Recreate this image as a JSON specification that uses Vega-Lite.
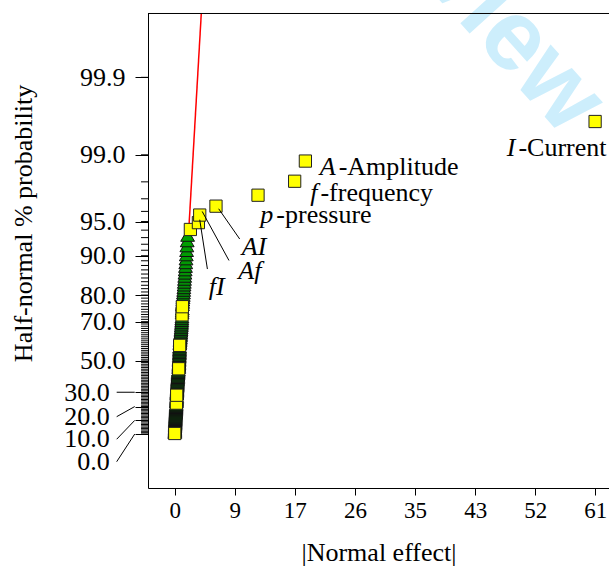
{
  "$schema": "https://vega.github.io/schema/vega-lite/v6.json",
  "width": 461,
  "height": 475,
  "autosize": {"type": "none"},
  "padding": {"left": 148, "top": 13, "right": 0, "bottom": 79},
  "background": "white",
  "config": {
    "view": {"stroke": null},
    "axis": {"labelFont": "Liberation Serif", "titleFont": "Liberation Serif", "labelColor": "black", "titleColor": "black", "titleFontWeight": "normal", "domainColor": "black", "tickColor": "black", "grid": false}
  },
  "datasets": {
    "points": [
      {"rank": 1, "z": 0.0049, "effect": 0.01, "kind": "effect"},
      {"rank": 2, "z": 0.0148, "effect": 0.01, "kind": "error"},
      {"rank": 3, "z": 0.0247, "effect": 0.02, "kind": "error"},
      {"rank": 4, "z": 0.0345, "effect": 0.03, "kind": "error"},
      {"rank": 5, "z": 0.0444, "effect": 0.03, "kind": "error"},
      {"rank": 6, "z": 0.0543, "effect": 0.04, "kind": "error"},
      {"rank": 7, "z": 0.0642, "effect": 0.05, "kind": "error"},
      {"rank": 8, "z": 0.0741, "effect": 0.05, "kind": "error"},
      {"rank": 9, "z": 0.0840, "effect": 0.06, "kind": "error"},
      {"rank": 10, "z": 0.0939, "effect": 0.07, "kind": "error"},
      {"rank": 11, "z": 0.1038, "effect": 0.08, "kind": "error"},
      {"rank": 12, "z": 0.1137, "effect": 0.08, "kind": "error"},
      {"rank": 13, "z": 0.1237, "effect": 0.09, "kind": "error"},
      {"rank": 14, "z": 0.1336, "effect": 0.10, "kind": "error"},
      {"rank": 15, "z": 0.1436, "effect": 0.11, "kind": "error"},
      {"rank": 16, "z": 0.1536, "effect": 0.11, "kind": "error"},
      {"rank": 17, "z": 0.1636, "effect": 0.12, "kind": "error"},
      {"rank": 18, "z": 0.1736, "effect": 0.13, "kind": "error"},
      {"rank": 19, "z": 0.1836, "effect": 0.14, "kind": "error"},
      {"rank": 20, "z": 0.1936, "effect": 0.15, "kind": "error"},
      {"rank": 21, "z": 0.2037, "effect": 0.16, "kind": "error"},
      {"rank": 22, "z": 0.2138, "effect": 0.17, "kind": "error"},
      {"rank": 23, "z": 0.2239, "effect": 0.18, "kind": "error"},
      {"rank": 24, "z": 0.2340, "effect": 0.19, "kind": "error"},
      {"rank": 25, "z": 0.2442, "effect": 0.20, "kind": "error"},
      {"rank": 26, "z": 0.2544, "effect": 0.21, "kind": "error"},
      {"rank": 27, "z": 0.2646, "effect": 0.22, "kind": "error"},
      {"rank": 28, "z": 0.2748, "effect": 0.23, "kind": "error"},
      {"rank": 29, "z": 0.2851, "effect": 0.25, "kind": "effect"},
      {"rank": 30, "z": 0.2954, "effect": 0.25, "kind": "error"},
      {"rank": 31, "z": 0.3057, "effect": 0.26, "kind": "error"},
      {"rank": 32, "z": 0.3160, "effect": 0.27, "kind": "error"},
      {"rank": 33, "z": 0.3264, "effect": 0.27, "kind": "error"},
      {"rank": 34, "z": 0.3369, "effect": 0.28, "kind": "error"},
      {"rank": 35, "z": 0.3473, "effect": 0.29, "kind": "error"},
      {"rank": 36, "z": 0.3578, "effect": 0.29, "kind": "effect"},
      {"rank": 37, "z": 0.3684, "effect": 0.30, "kind": "error"},
      {"rank": 38, "z": 0.3790, "effect": 0.31, "kind": "error"},
      {"rank": 39, "z": 0.3896, "effect": 0.32, "kind": "error"},
      {"rank": 40, "z": 0.4002, "effect": 0.33, "kind": "error"},
      {"rank": 41, "z": 0.4110, "effect": 0.34, "kind": "error"},
      {"rank": 42, "z": 0.4217, "effect": 0.35, "kind": "error"},
      {"rank": 43, "z": 0.4325, "effect": 0.36, "kind": "error"},
      {"rank": 44, "z": 0.4434, "effect": 0.37, "kind": "error"},
      {"rank": 45, "z": 0.4543, "effect": 0.38, "kind": "error"},
      {"rank": 46, "z": 0.4653, "effect": 0.39, "kind": "error"},
      {"rank": 47, "z": 0.4763, "effect": 0.40, "kind": "error"},
      {"rank": 48, "z": 0.4874, "effect": 0.41, "kind": "error"},
      {"rank": 49, "z": 0.4985, "effect": 0.42, "kind": "error"},
      {"rank": 50, "z": 0.5097, "effect": 0.43, "kind": "error"},
      {"rank": 51, "z": 0.5210, "effect": 0.45, "kind": "error"},
      {"rank": 52, "z": 0.5324, "effect": 0.46, "kind": "error"},
      {"rank": 53, "z": 0.5438, "effect": 0.47, "kind": "error"},
      {"rank": 54, "z": 0.5552, "effect": 0.49, "kind": "error"},
      {"rank": 55, "z": 0.5668, "effect": 0.50, "kind": "error"},
      {"rank": 56, "z": 0.5784, "effect": 0.52, "kind": "error"},
      {"rank": 57, "z": 0.5901, "effect": 0.54, "kind": "error"},
      {"rank": 58, "z": 0.6019, "effect": 0.58, "kind": "effect"},
      {"rank": 59, "z": 0.6138, "effect": 0.58, "kind": "error"},
      {"rank": 60, "z": 0.6257, "effect": 0.59, "kind": "error"},
      {"rank": 61, "z": 0.6378, "effect": 0.60, "kind": "error"},
      {"rank": 62, "z": 0.6499, "effect": 0.61, "kind": "error"},
      {"rank": 63, "z": 0.6622, "effect": 0.62, "kind": "error"},
      {"rank": 64, "z": 0.6745, "effect": 0.63, "kind": "error"},
      {"rank": 65, "z": 0.6869, "effect": 0.64, "kind": "error"},
      {"rank": 66, "z": 0.6995, "effect": 0.65, "kind": "error"},
      {"rank": 67, "z": 0.7122, "effect": 0.66, "kind": "error"},
      {"rank": 68, "z": 0.7249, "effect": 0.67, "kind": "error"},
      {"rank": 69, "z": 0.7378, "effect": 0.68, "kind": "error"},
      {"rank": 70, "z": 0.7508, "effect": 0.69, "kind": "error"},
      {"rank": 71, "z": 0.7640, "effect": 0.70, "kind": "error"},
      {"rank": 72, "z": 0.7773, "effect": 0.70, "kind": "error"},
      {"rank": 73, "z": 0.7907, "effect": 0.71, "kind": "error"},
      {"rank": 74, "z": 0.8043, "effect": 0.71, "kind": "error"},
      {"rank": 75, "z": 0.8180, "effect": 0.72, "kind": "effect"},
      {"rank": 76, "z": 0.8319, "effect": 0.74, "kind": "error"},
      {"rank": 77, "z": 0.8459, "effect": 0.76, "kind": "error"},
      {"rank": 78, "z": 0.8601, "effect": 0.78, "kind": "error"},
      {"rank": 79, "z": 0.8744, "effect": 0.80, "kind": "error"},
      {"rank": 80, "z": 0.8890, "effect": 0.82, "kind": "error"},
      {"rank": 81, "z": 0.9038, "effect": 0.84, "kind": "error"},
      {"rank": 82, "z": 0.9187, "effect": 0.86, "kind": "error"},
      {"rank": 83, "z": 0.9338, "effect": 0.88, "kind": "error"},
      {"rank": 84, "z": 0.9492, "effect": 0.90, "kind": "error"},
      {"rank": 85, "z": 0.9648, "effect": 0.92, "kind": "error"},
      {"rank": 86, "z": 0.9807, "effect": 0.94, "kind": "error"},
      {"rank": 87, "z": 0.9967, "effect": 0.96, "kind": "error"},
      {"rank": 88, "z": 1.0131, "effect": 0.98, "kind": "error"},
      {"rank": 89, "z": 1.0297, "effect": 1.00, "kind": "error"},
      {"rank": 90, "z": 1.0467, "effect": 1.02, "kind": "error"},
      {"rank": 91, "z": 1.0639, "effect": 1.03, "kind": "error"},
      {"rank": 92, "z": 1.0814, "effect": 1.05, "kind": "error"},
      {"rank": 93, "z": 1.0993, "effect": 1.06, "kind": "effect"},
      {"rank": 94, "z": 1.1176, "effect": 1.07, "kind": "error"},
      {"rank": 95, "z": 1.1362, "effect": 1.08, "kind": "error"},
      {"rank": 96, "z": 1.1552, "effect": 1.10, "kind": "error"},
      {"rank": 97, "z": 1.1746, "effect": 1.11, "kind": "effect"},
      {"rank": 98, "z": 1.1946, "effect": 1.13, "kind": "error"},
      {"rank": 99, "z": 1.2150, "effect": 1.15, "kind": "error"},
      {"rank": 100, "z": 1.2359, "effect": 1.18, "kind": "error"},
      {"rank": 101, "z": 1.2573, "effect": 1.21, "kind": "error"},
      {"rank": 102, "z": 1.2793, "effect": 1.24, "kind": "error"},
      {"rank": 103, "z": 1.3021, "effect": 1.27, "kind": "error"},
      {"rank": 104, "z": 1.3255, "effect": 1.30, "kind": "error"},
      {"rank": 105, "z": 1.3497, "effect": 1.33, "kind": "error"},
      {"rank": 106, "z": 1.3745, "effect": 1.36, "kind": "error"},
      {"rank": 107, "z": 1.4002, "effect": 1.39, "kind": "error"},
      {"rank": 108, "z": 1.4273, "effect": 1.42, "kind": "error"},
      {"rank": 109, "z": 1.4552, "effect": 1.45, "kind": "error"},
      {"rank": 110, "z": 1.4842, "effect": 1.48, "kind": "error"},
      {"rank": 111, "z": 1.5144, "effect": 1.52, "kind": "error"},
      {"rank": 112, "z": 1.5464, "effect": 1.56, "kind": "error"},
      {"rank": 113, "z": 1.5801, "effect": 1.60, "kind": "error"},
      {"rank": 114, "z": 1.6155, "effect": 1.64, "kind": "error"},
      {"rank": 115, "z": 1.6528, "effect": 1.68, "kind": "error"},
      {"rank": 116, "z": 1.6926, "effect": 1.72, "kind": "error"},
      {"rank": 117, "z": 1.7359, "effect": 1.76, "kind": "error"},
      {"rank": 118, "z": 1.7825, "effect": 1.81, "kind": "error"},
      {"rank": 119, "z": 1.8331, "effect": 1.87, "kind": "error"},
      {"rank": 120, "z": 1.887, "effect": 2.27, "kind": "effect"},
      {"rank": 121, "z": 1.950, "effect": 3.43, "kind": "effect"},
      {"rank": 122, "z": 2.020, "effect": 3.62, "kind": "effect"},
      {"rank": 123, "z": 2.102, "effect": 5.97, "kind": "effect"},
      {"rank": 124, "z": 2.203, "effect": 12.05, "kind": "effect"},
      {"rank": 125, "z": 2.332, "effect": 17.35, "kind": "effect"},
      {"rank": 126, "z": 2.518, "effect": 18.9, "kind": "effect"},
      {"rank": 127, "z": 2.883, "effect": 60.8, "kind": "effect"}
    ],
    "fit": [
      {"effect": 0.33, "z": 0},
      {"effect": 3.85, "z": 3.884}
    ],
    "probticks": [
      {"pct": 0, "z": 0}, {"pct": 1, "z": 0.01253}, {"pct": 2, "z": 0.02507}, {"pct": 3, "z": 0.03761}, {"pct": 4, "z": 0.05015},
      {"pct": 5, "z": 0.06271}, {"pct": 6, "z": 0.07527}, {"pct": 7, "z": 0.08784}, {"pct": 8, "z": 0.10043}, {"pct": 9, "z": 0.11304},
      {"pct": 10, "z": 0.12566}, {"pct": 11, "z": 0.1383}, {"pct": 12, "z": 0.15097}, {"pct": 13, "z": 0.16366}, {"pct": 14, "z": 0.17637},
      {"pct": 15, "z": 0.18912}, {"pct": 16, "z": 0.20189}, {"pct": 17, "z": 0.2147}, {"pct": 18, "z": 0.22754}, {"pct": 19, "z": 0.24042},
      {"pct": 20, "z": 0.25335}, {"pct": 21, "z": 0.26631}, {"pct": 22, "z": 0.27932}, {"pct": 23, "z": 0.29237}, {"pct": 24, "z": 0.30548},
      {"pct": 25, "z": 0.31864}, {"pct": 26, "z": 0.33185}, {"pct": 27, "z": 0.34513}, {"pct": 28, "z": 0.35846}, {"pct": 29, "z": 0.37186},
      {"pct": 30, "z": 0.38532}, {"pct": 31, "z": 0.39886}, {"pct": 32, "z": 0.41246}, {"pct": 33, "z": 0.42615}, {"pct": 34, "z": 0.43991},
      {"pct": 35, "z": 0.45376}, {"pct": 36, "z": 0.4677}, {"pct": 37, "z": 0.48173}, {"pct": 38, "z": 0.49585}, {"pct": 39, "z": 0.51007},
      {"pct": 40, "z": 0.5244}, {"pct": 41, "z": 0.53884}, {"pct": 42, "z": 0.55338}, {"pct": 43, "z": 0.56805}, {"pct": 44, "z": 0.58284},
      {"pct": 45, "z": 0.59776}, {"pct": 46, "z": 0.61281}, {"pct": 47, "z": 0.62801}, {"pct": 48, "z": 0.64335}, {"pct": 49, "z": 0.65884},
      {"pct": 50, "z": 0.67449}, {"pct": 51, "z": 0.69031}, {"pct": 52, "z": 0.7063}, {"pct": 53, "z": 0.72248}, {"pct": 54, "z": 0.73885},
      {"pct": 55, "z": 0.75542}, {"pct": 56, "z": 0.77219}, {"pct": 57, "z": 0.78919}, {"pct": 58, "z": 0.80642}, {"pct": 59, "z": 0.82389},
      {"pct": 60, "z": 0.84162}, {"pct": 61, "z": 0.85962}, {"pct": 62, "z": 0.8779}, {"pct": 63, "z": 0.89647}, {"pct": 64, "z": 0.91537},
      {"pct": 65, "z": 0.93459}, {"pct": 66, "z": 0.95417}, {"pct": 67, "z": 0.97411}, {"pct": 68, "z": 0.99446}, {"pct": 69, "z": 1.01522},
      {"pct": 70, "z": 1.03643}, {"pct": 71, "z": 1.05812}, {"pct": 72, "z": 1.08032}, {"pct": 73, "z": 1.10306}, {"pct": 74, "z": 1.12639},
      {"pct": 75, "z": 1.15035}, {"pct": 76, "z": 1.17499}, {"pct": 77, "z": 1.20036}, {"pct": 78, "z": 1.22653}, {"pct": 79, "z": 1.25357},
      {"pct": 80, "z": 1.28155}, {"pct": 81, "z": 1.31058}, {"pct": 82, "z": 1.34076}, {"pct": 83, "z": 1.3722}, {"pct": 84, "z": 1.40507},
      {"pct": 85, "z": 1.43953}, {"pct": 86, "z": 1.47579}, {"pct": 87, "z": 1.5141}, {"pct": 88, "z": 1.55477}, {"pct": 89, "z": 1.59819},
      {"pct": 90, "z": 1.64485}, {"pct": 91, "z": 1.6954}, {"pct": 92, "z": 1.75069}, {"pct": 93, "z": 1.81191}, {"pct": 94, "z": 1.88079},
      {"pct": 95, "z": 1.95996}, {"pct": 96, "z": 2.05375}, {"pct": 97, "z": 2.17009}, {"pct": 98, "z": 2.32635}, {"pct": 99, "z": 2.57583},
      {"pct": 99.9, "z": 3.29053}
    ],
    "lowlabels": [
      {"label": "30.0", "z": 0.381},
      {"label": "20.0", "z": 0.16},
      {"label": "10.0", "z": -0.048},
      {"label": "0.0", "z": -0.2555}
    ],
    "labels": [
      {"effect": 49.27, "z": 2.567, "prefix": "I", "suffix": "-Current"},
      {"effect": 23.28, "z": 2.386, "prefix": "A", "suffix": "-Amplitude"},
      {"effect": 20.64, "z": 2.152, "prefix": "f", "suffix": "-frequency"},
      {"effect": 14.27, "z": 1.945, "prefix": "p", "suffix": "-pressure"},
      {"effect": 13.26, "z": 1.648, "prefix": "AI", "suffix": ""},
      {"effect": 12.54, "z": 1.43, "prefix": "Af", "suffix": ""},
      {"effect": 7.23, "z": 1.285, "prefix": "fI", "suffix": ""}
    ],
    "leaders": [
      {"effect": 6.36, "z": 2.078, "effect2": 9.4, "z2": 1.799},
      {"effect": 3.98, "z": 2.053, "effect2": 7.85, "z2": 1.601},
      {"effect": 3.62, "z": 1.977, "effect2": 4.73, "z2": 1.522},
      {"effect": -8.39, "z": 0.38532, "effect2": -5.78, "z2": 0.38532},
      {"effect": -8.39, "z": 0.16, "effect2": -5.78, "z2": 0.25335},
      {"effect": -8.39, "z": -0.048, "effect2": -5.78, "z2": 0.12566},
      {"effect": -8.39, "z": -0.2555, "effect2": -5.78, "z2": 0}
    ],
    "watermark": [
      {"effect": 56.25, "z": 2.733, "text": "Preview"}
    ]
  },
  "layer": [
    {
      "data": {"name": "fit"},
      "mark": {"type": "line", "color": "#ff0000", "strokeWidth": 1.5},
      "encoding": {
        "x": {
          "field": "effect", "type": "quantitative",
          "scale": {"domain": [-3.86, 62.81], "nice": false, "zero": false},
          "axis": {
            "title": "|Normal effect|",
            "values": [0, 8.69, 17.38, 26.07, 34.76, 43.45, 52.14, 60.83],
            "format": ".0f",
            "tickSize": 7,
            "labelPadding": 4,
            "labelFontSize": 23,
            "labelFlush": false,
            "titleFontSize": 26,
            "titlePadding": 17
          }
        },
        "y": {
          "field": "z", "type": "quantitative",
          "scale": {"domain": [-0.498, 3.884], "nice": false, "zero": false},
          "axis": {
            "title": "Half-normal % probability",
            "values": [0, 0.12566, 0.25335, 0.38532, 0.67449, 1.03643, 1.28155, 1.64485, 1.95996, 2.57583, 3.29053],
            "tickCount": 50,
            "labelExpr": "datum.value == 3.29053 ? '99.9' : datum.value == 2.57583 ? '99.0' : datum.value == 1.95996 ? '95.0' : datum.value == 1.64485 ? '90.0' : datum.value == 1.28155 ? '80.0' : datum.value == 1.03643 ? '70.0' : datum.value == 0.67449 ? '50.0' : ''",
            "labelOverlap": false,
            "labelFontSize": 26,
            "labelPadding": 10,
            "tickSize": 13,
            "titleFontSize": 26,
            "titleX": -125,
            "titleY": 210,
            "titleAngle": -90,
            "titleAlign": "center",
            "titleBaseline": "middle"
          }
        }
      }
    },
    {
      "data": {"name": "watermark"},
      "mark": {"type": "text", "font": "Liberation Sans", "fontWeight": "bold", "fontSize": 100, "angle": 48, "align": "right", "baseline": "alphabetic", "color": "#cdeefc"},
      "encoding": {
        "x": {"field": "effect", "type": "quantitative", "scale": {"domain": [-3.86, 62.81], "nice": false, "zero": false}},
        "y": {"field": "z", "type": "quantitative", "scale": {"domain": [-0.498, 3.884], "nice": false, "zero": false}},
        "text": {"field": "text"}
      }
    },
    {
      "data": {"values": [{"z": 3.8794}]},
      "mark": {"type": "rule", "color": "black", "strokeWidth": 1},
      "encoding": {
        "y": {"field": "z", "type": "quantitative", "scale": {"domain": [-0.498, 3.884], "nice": false, "zero": false}}
      }
    },
    {
      "data": {"name": "probticks"},
      "mark": {"type": "rule", "color": "black", "strokeWidth": 1},
      "encoding": {
        "x": {"datum": -4.87, "type": "quantitative", "scale": {"domain": [-3.86, 62.81], "nice": false, "zero": false}},
        "x2": {"datum": -3.86},
        "y": {"field": "z", "type": "quantitative", "scale": {"domain": [-0.498, 3.884], "nice": false, "zero": false}}
      }
    },
    {
      "data": {"name": "lowlabels"},
      "mark": {"type": "text", "font": "Liberation Serif", "fontSize": 26, "align": "right", "baseline": "middle", "color": "black"},
      "encoding": {
        "x": {"datum": -9.4, "type": "quantitative", "scale": {"domain": [-3.86, 62.81], "nice": false, "zero": false}},
        "y": {"field": "z", "type": "quantitative", "scale": {"domain": [-0.498, 3.884], "nice": false, "zero": false}},
        "text": {"field": "label"}
      }
    },
    {
      "data": {"name": "points"},
      "transform": [{"filter": "datum.kind == 'error'"}],
      "mark": {"type": "point", "shape": "triangle-up", "filled": true, "size": 190, "stroke": "#111111", "strokeWidth": 1, "opacity": 1},
      "encoding": {
        "x": {"field": "effect", "type": "quantitative", "scale": {"domain": [-3.86, 62.81], "nice": false, "zero": false}},
        "y": {"field": "z", "type": "quantitative", "scale": {"domain": [-0.498, 3.884], "nice": false, "zero": false}},
        "fill": {"field": "z", "type": "quantitative", "scale": {"domain": [0, 1.85], "range": ["#0b480b", "#00a300"]}, "legend": null},
        "order": {"field": "rank", "type": "quantitative"}
      }
    },
    {
      "data": {"name": "points"},
      "transform": [{"filter": "datum.kind == 'effect'"}],
      "mark": {"type": "point", "shape": "square", "filled": true, "size": 150, "fill": "#ffff00", "stroke": "#222222", "strokeWidth": 1, "opacity": 1},
      "encoding": {
        "x": {"field": "effect", "type": "quantitative", "scale": {"domain": [-3.86, 62.81], "nice": false, "zero": false}},
        "y": {"field": "z", "type": "quantitative", "scale": {"domain": [-0.498, 3.884], "nice": false, "zero": false}}
      }
    },
    {
      "data": {"name": "leaders"},
      "mark": {"type": "rule", "color": "black", "strokeWidth": 1},
      "encoding": {
        "x": {"field": "effect", "type": "quantitative", "scale": {"domain": [-3.86, 62.81], "nice": false, "zero": false}},
        "y": {"field": "z", "type": "quantitative", "scale": {"domain": [-0.498, 3.884], "nice": false, "zero": false}},
        "x2": {"field": "effect2"},
        "y2": {"field": "z2"}
      }
    },
    {
      "data": {"name": "labels"},
      "mark": {"type": "text", "font": "Liberation Serif", "fontStyle": "italic", "fontSize": 26, "align": "right", "baseline": "alphabetic", "color": "black"},
      "encoding": {
        "x": {"field": "effect", "type": "quantitative", "scale": {"domain": [-3.86, 62.81], "nice": false, "zero": false}},
        "y": {"field": "z", "type": "quantitative", "scale": {"domain": [-0.498, 3.884], "nice": false, "zero": false}},
        "text": {"field": "prefix"}
      }
    },
    {
      "data": {"name": "labels"},
      "mark": {"type": "text", "font": "Liberation Serif", "fontSize": 26, "align": "left", "baseline": "alphabetic", "color": "black", "dx": 3},
      "encoding": {
        "x": {"field": "effect", "type": "quantitative", "scale": {"domain": [-3.86, 62.81], "nice": false, "zero": false}},
        "y": {"field": "z", "type": "quantitative", "scale": {"domain": [-0.498, 3.884], "nice": false, "zero": false}},
        "text": {"field": "suffix"}
      }
    }
  ]
}
